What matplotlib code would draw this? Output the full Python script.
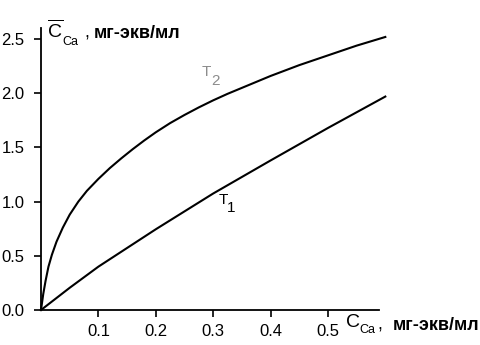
import matplotlib
matplotlib.use("Agg")
import matplotlib.pyplot as plt

plt.rcParams['font.family'] = ['Liberation Sans', 'DejaVu Sans']
plt.rcParams['mathtext.fontset'] = 'custom'
plt.rcParams['mathtext.rm'] = 'Liberation Sans'

# curves (concentration in solution vs in resin)
t1_x = [0, 0.05, 0.1, 0.2, 0.3, 0.4, 0.5, 0.6]
t1_y = [0, 0.205, 0.40, 0.745, 1.075, 1.38, 1.68, 1.97]

t2_x = [0, 0.004, 0.008, 0.013, 0.019, 0.027, 0.038, 0.05, 0.065, 0.08, 0.1,
        0.12, 0.14, 0.16, 0.18, 0.2, 0.225, 0.25, 0.275, 0.3, 0.325, 0.35,
        0.375, 0.4, 0.425, 0.45, 0.5, 0.55, 0.6]
t2_y = [0, 0.15, 0.27, 0.40, 0.51, 0.63, 0.76, 0.88, 1.00, 1.10, 1.21,
        1.31, 1.40, 1.485, 1.565, 1.64, 1.725, 1.80, 1.87, 1.935, 1.995, 2.05,
        2.105, 2.16, 2.21, 2.26, 2.35, 2.44, 2.52]

x_ticks = [0.1, 0.2, 0.3, 0.4, 0.5]
y_ticks = [0.0, 0.5, 1.0, 1.5, 2.0, 2.5]

W, H = 481, 345
fig = plt.figure(figsize=(W / 100, H / 100), dpi=100)
ax = fig.add_axes([41 / W, 35 / H, 338 / W, 281.7 / H])

ax.plot(t2_x, t2_y, color='black', lw=1.5, clip_on=False)
ax.plot(t1_x, t1_y, color='black', lw=1.5, clip_on=False)

ax.set_xlim(0, 0.589)
ax.set_ylim(0, 2.6)
ax.set_xticks(x_ticks)
ax.set_yticks(y_ticks)
ax.set_xticklabels([f"{v:.1f}" for v in x_ticks])
ax.set_yticklabels([f"{v:.1f}" for v in y_ticks])
ax.tick_params(axis='both', direction='out', length=5, width=1.2, labelsize=12)
ax.tick_params(axis='y', pad=7)
ax.tick_params(axis='x', pad=5)
for s in ['top', 'right']:
    ax.spines[s].set_visible(False)
for s in ['left', 'bottom']:
    ax.spines[s].set_linewidth(1.3)


def px(x, y):
    return x / W, 1 - y / H


# y axis label
fig.text(*px(47, 37.5), r'$\overline{\mathrm{C}}$', fontsize=14, va='baseline')
fig.text(*px(62, 45), 'Ca', fontsize=9, va='baseline')
fig.text(*px(84, 37.5), ',', fontsize=13, va='baseline')
fig.text(*px(94, 37.5), 'мг-экв/мл', fontsize=13, fontweight='bold', va='baseline')

# x axis label
fig.text(*px(346, 327), 'C', fontsize=14, va='baseline')
fig.text(*px(359, 333), 'Ca', fontsize=9, va='baseline')
fig.text(*px(377, 330), ',', fontsize=13, va='baseline')
fig.text(*px(393, 330), 'мг-экв/мл', fontsize=13, fontweight='bold', va='baseline')

# curve labels
fig.text(*px(202, 76), 'T', fontsize=11, color='#8c8c8c', va='baseline')
fig.text(*px(211, 85), '2', fontsize=11, color='#8c8c8c', va='baseline')
fig.text(*px(219, 204), 'T', fontsize=11, color='black', va='baseline')
fig.text(*px(227, 212), '1', fontsize=11, color='black', va='baseline')

fig.savefig('out.png', dpi=100)
